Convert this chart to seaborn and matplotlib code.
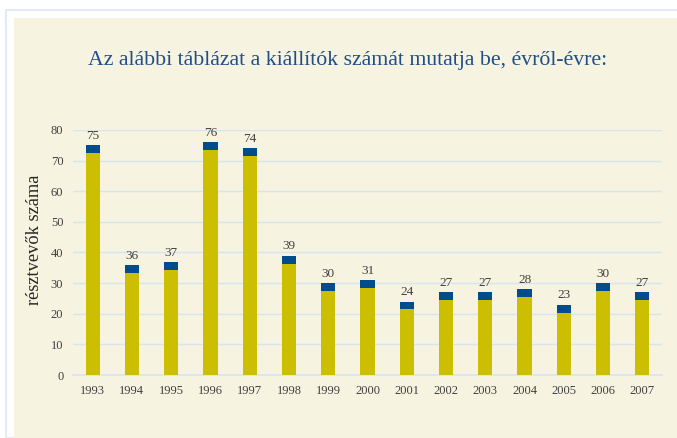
import matplotlib
matplotlib.use("Agg")
import matplotlib.pyplot as plt
import seaborn as sns
import pandas as pd
import numpy as np
from matplotlib.patches import Rectangle

years = ["1993", "1994", "1995", "1996", "1997", "1998", "1999", "2000",
         "2001", "2002", "2003", "2004", "2005", "2006", "2007"]
counts = [75, 36, 37, 76, 74, 39, 30, 31, 24, 27, 27, 28, 23, 30, 27]

df = pd.DataFrame({"ev": years, "resztvevok": counts})
cap = 2.6  # height of the blue top band
df["alap"] = df["resztvevok"] - cap

sns.set_style("white")
plt.rcParams["font.family"] = ["Liberation Serif", "DejaVu Serif"]

cream = "#F6F3E0"
grid_col = "#D8E4EF"
fig = plt.figure(figsize=(6.77, 4.38), dpi=100)
fig.patch.set_facecolor("white")

# frame and cream panel
fig.patches.append(Rectangle((6 / 677, 0), 1, 1 - 10 / 438, transform=fig.transFigure,
                             facecolor="white", edgecolor="#DCE8F4", lw=1.2, zorder=-2))
fig.patches.append(Rectangle((14 / 677, 0), 1, 1 - 18 / 438, transform=fig.transFigure,
                             facecolor=cream, edgecolor="none", zorder=-1))

ax = fig.add_axes([73 / 677, 1 - 375 / 438, 589 / 677, 245 / 438])
ax.set_facecolor(cream)

sns.barplot(data=df, x="ev", y="resztvevok", color="#004C8C", width=0.36,
            saturation=1, linewidth=0, ax=ax, zorder=3)
sns.barplot(data=df, x="ev", y="alap", color="#CCBE00", width=0.36,
            saturation=1, linewidth=0, ax=ax, zorder=4)

for i, v in enumerate(df["resztvevok"]):
    ax.text(i, v + 1.0, str(v), ha="center", va="bottom", fontsize=9.5,
            color="#404040", zorder=5)

ax.set_ylim(0, 80)
ax.set_xlim(-0.5, len(years) - 0.5)
ax.set_yticks(range(0, 81, 10))
ax.yaxis.grid(True, color=grid_col, lw=1, zorder=0)
ax.set_axisbelow(True)
for s in ["top", "right", "left"]:
    ax.spines[s].set_visible(False)
ax.spines["bottom"].set_color(grid_col)
ax.spines["bottom"].set_linewidth(1.2)

ax.set_xticks(np.arange(-0.5, len(years), 1), minor=True)
ax.tick_params(axis="x", which="minor", length=5, color=grid_col, width=1.2)
ax.tick_params(axis="x", which="major", length=0, pad=7, labelsize=9,
               labelcolor="#404040")
ax.tick_params(axis="y", length=0, pad=7, labelsize=9, labelcolor="#404040")

ax.set_xlabel("")
ax.set_ylabel("résztvevők száma", fontsize=13.2, color="#262626")
ax.yaxis.set_label_coords(-0.051, 0.55)

fig.text(348 / 677, 1 - 60 / 438, "Az alábbi táblázat a kiállítók számát mutatja be, évről-évre:",
         ha="center", va="center", fontsize=15.7, color="#1F4E8A")

fig.savefig("out.png", dpi=100, facecolor=fig.get_facecolor())
